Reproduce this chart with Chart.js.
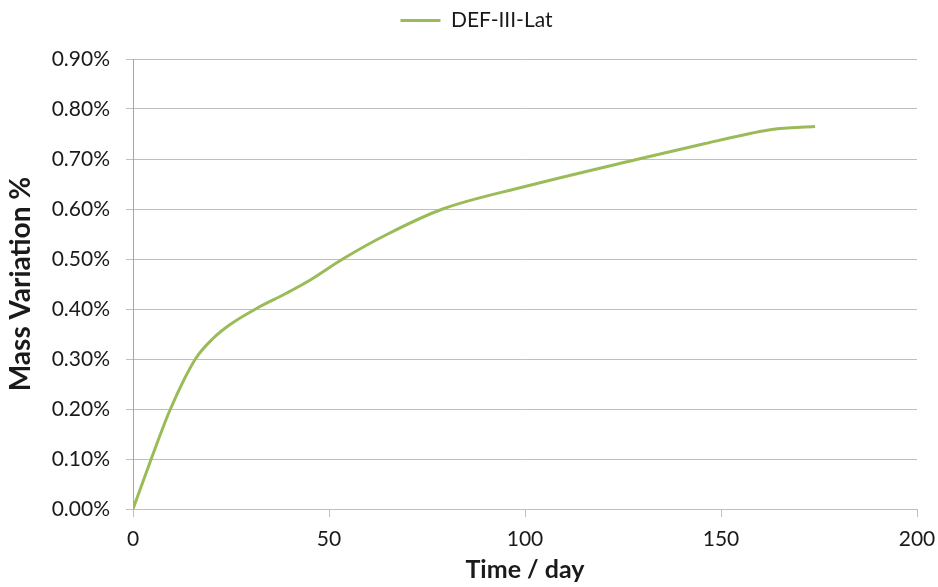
<!DOCTYPE html>
<html>
<head>
<meta charset="utf-8">
<script src="https://cdn.jsdelivr.net/npm/chart.js@4"></script>
<style>
  html, body { margin: 0; padding: 0; background: #fff; }
  #wrap { width: 938px; height: 587px; }
</style>
</head>
<body>
<div id="wrap"><canvas id="lineChart"></canvas></div>
<script>
    // Data (time in days, mass variation in %)
    var seriesName = 'DEF-III-Lat';
    var days = [0, 4.6, 9.5, 16, 20.4, 24.6, 31.5, 39, 45, 53.5, 65, 79, 100, 129, 146, 158, 163, 174];
    var massVariation = [0, 0.099, 0.199, 0.301, 0.341, 0.368, 0.401, 0.431, 0.457, 0.50, 0.55, 0.60, 0.645, 0.70, 0.731, 0.752, 0.759, 0.765];

    var points = days.map((d, i) => ({ x: d, y: massVariation[i] }));

    var gridGray = '#BFBFBF';
    var textColor = '#1a1a1a';

    // give the legend some room below it and nudge it right like the original
    var legendSpacing = {
        id: 'legendSpacing',
        beforeInit: function (chart) {
            var origFit = chart.legend.fit;
            chart.legend.fit = function () {
                origFit.bind(chart.legend)();
                this.height += 18;
            };
        },
        afterLayout: function (chart) {
            chart.legend.left += 18;
            chart.legend.right += 18;
        }
    };

    var ctxLine = document.getElementById('lineChart').getContext('2d');
    var myLineChart = new Chart(ctxLine, {
        type: 'line',
        data: {
            datasets: [{
                label: seriesName,
                data: points,
                borderColor: '#9BBB59',
                backgroundColor: '#9BBB59',
                borderWidth: 3,
                pointRadius: 0,
                cubicInterpolationMode: 'monotone',
                pointStyle: 'line',
                fill: false
            }]
        },
        options: {
            responsive: true,
            maintainAspectRatio: false,
            animation: false,
            layout: {
                padding: { left: 0, right: 21, top: 4, bottom: 0 }
            },
            plugins: {
                legend: {
                    display: true,
                    position: 'top',
                    labels: {
                        usePointStyle: true,
                        pointStyleWidth: 40,
                        color: textColor,
                        font: { family: 'Lato', size: 21 },
                        padding: 6
                    }
                },
                tooltip: { enabled: false }
            },
            scales: {
                x: {
                    type: 'linear',
                    min: 0,
                    max: 200,
                    ticks: {
                        stepSize: 50,
                        color: textColor,
                        font: { family: 'Lato', size: 21 },
                        padding: 10,
                        maxRotation: 0
                    },
                    grid: {
                        drawOnChartArea: false,
                        drawTicks: true,
                        tickLength: 8,
                        color: gridGray
                    },
                    border: { color: gridGray },
                    title: {
                        display: true,
                        text: 'Time / day',
                        color: textColor,
                        font: { family: 'Lato', size: 25, weight: 'bold' },
                        padding: { top: 0, bottom: 2 }
                    },
                    afterFit: function (scale) {
                        scale.height = 78;
                        scale.paddingLeft = 0;
                        scale.paddingRight = 0;
                    }
                },
                y: {
                    min: 0,
                    max: 0.9,
                    ticks: {
                        stepSize: 0.1,
                        color: textColor,
                        font: { family: 'Lato', size: 21 },
                        padding: 16,
                        callback: function (v) { return v.toFixed(2) + '%'; }
                    },
                    grid: {
                        color: gridGray,
                        tickLength: 7
                    },
                    border: { color: '#A6A6A6' },
                    title: {
                        display: true,
                        text: 'Mass Variation %',
                        color: textColor,
                        font: { family: 'Lato', size: 28, weight: 'bold' },
                        padding: { top: 4, bottom: 0 }
                    },
                    afterFit: function (scale) { scale.width = 133; }
                }
            }
        },
        plugins: [legendSpacing]
    });
</script>
</body>
</html>
